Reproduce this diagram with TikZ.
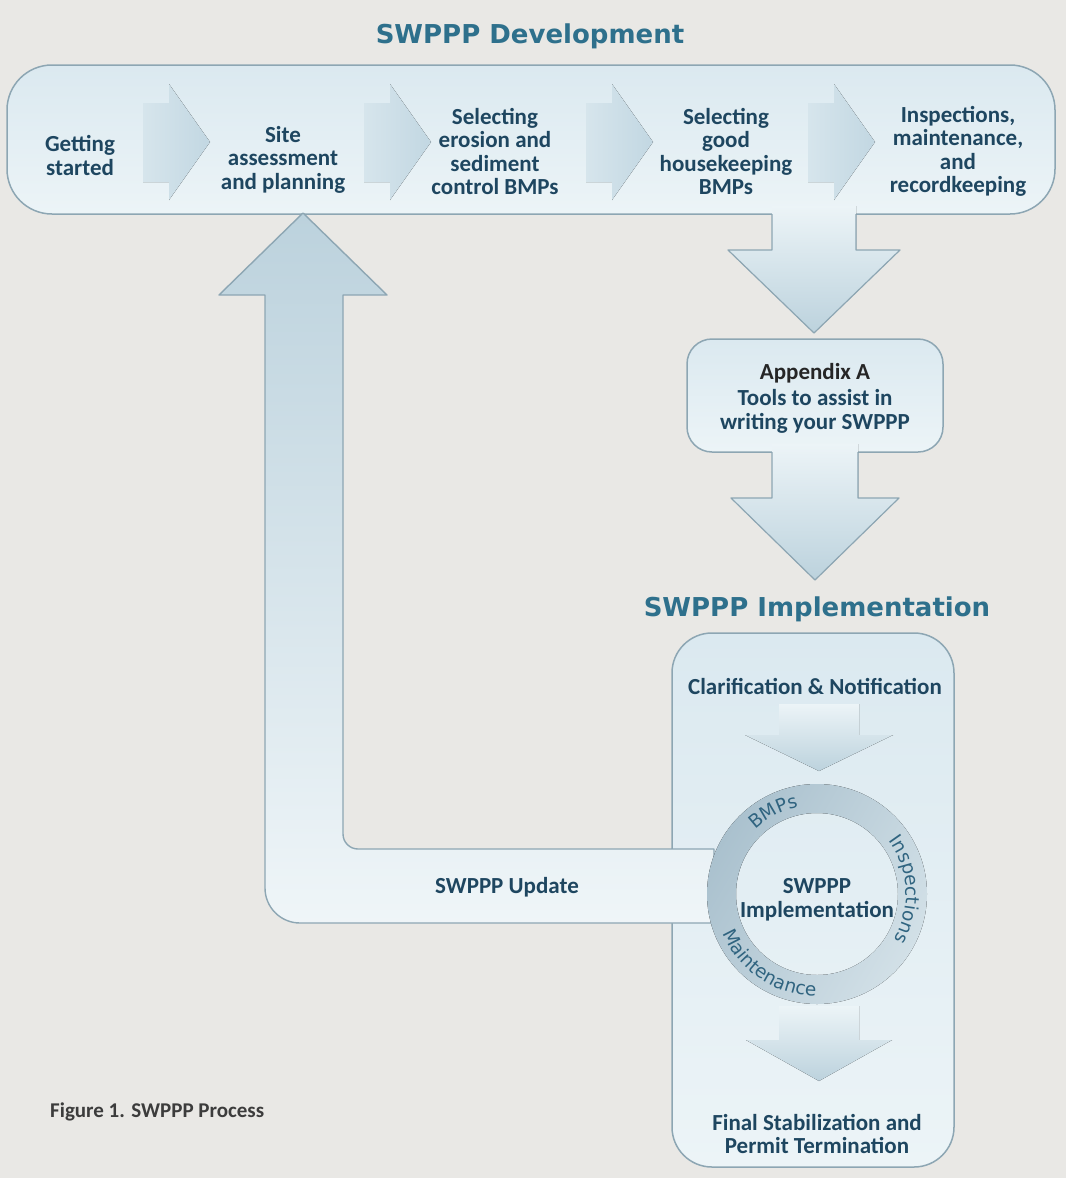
\documentclass[tikz,border=0pt]{standalone}
\usepackage{fontspec}
\setmainfont{Carlito}
\newfontfamily\headfont{DejaVu Sans}
\newfontfamily\ringfont{DejaVu Sans}
\usetikzlibrary{decorations.text}

\definecolor{bgc}{RGB}{233,232,229}
\definecolor{boxtop}{RGB}{219,233,240}
\definecolor{boxbot}{RGB}{236,244,247}
\definecolor{edge}{RGB}{141,166,179}
\definecolor{labelc}{RGB}{30,70,96}
\definecolor{headc}{RGB}{46,112,140}
\definecolor{arrlight}{RGB}{232,241,245}
\definecolor{arrdark}{RGB}{188,210,221}
\definecolor{rowlight}{RGB}{214,229,236}
\definecolor{rowdark}{RGB}{194,215,226}
\definecolor{ringdark}{RGB}{170,193,206}
\definecolor{ringlight}{RGB}{210,224,231}
\definecolor{ringtext}{RGB}{48,100,128}
\definecolor{captc}{RGB}{60,60,60}

% fat chevron arrow inside the development panel, #1 = left x
\newcommand\rowarrow[1]{%
  \fill[left color=rowlight, right color=rowdark]
    (#1,103) -- (#1+26,103) -- (#1+26,84) -- (#1+67,142) -- (#1+26,200)
    -- (#1+26,182) -- (#1,182) -- cycle;}

\begin{document}
\begin{tikzpicture}[x=1pt,y=-1pt,
  panel/.style={draw=edge, line width=1.5pt, top color=boxtop, bottom color=boxbot},
  lbl/.style={text=labelc, font=\bfseries\fontsize{23}{23.5}\selectfont, align=center, inner sep=0pt},
  heading/.style={text=headc, font=\headfont\bfseries\fontsize{26}{30}\selectfont, inner sep=0pt},
  bigarrow/.style={top color=boxbot, bottom color=arrdark},
  arrowedge/.style={draw=edge, line width=1.2pt, line join=round},
  innerarrow/.style={top color=boxbot, bottom color=arrdark},
  ringtxt/.style={decorate, decoration={text along path, text align=center,
      text color=ringtext, text={|\ringfont\fontsize{18.5}{20}\selectfont|#1}}}
]
\useasboundingbox (0,0) rectangle (1066,1178);
\fill[bgc] (0,0) rectangle (1066,1178);

% ---------- SWPPP development panel ----------
\node[heading] (devtitle) at (530,36) {SWPPP Development};
\path[panel, rounded corners=45pt] (7,65) rectangle (1055,214);
\coordinate (devbox) at (531,139);

\rowarrow{143}
\rowarrow{364}
\rowarrow{586}
\rowarrow{808}

\node[lbl] (s1) at (80,155.5) {Getting\\started};
\node[lbl] (s2) at (283,159.5) {Site\\assessment\\and planning};
\node[lbl] (s3) at (495,151.5) {Selecting\\erosion and\\sediment\\control BMPs};
\node[lbl] (s4) at (726,151.5) {Selecting\\good\\housekeeping\\BMPs};
\node[lbl] (s5) at (958,151.5) {Inspections,\\maintenance,\\and\\recordkeeping};

% ---------- Appendix A ----------
\path[panel, rounded corners=25pt] (687,339) rectangle (943,452);
\node[lbl, text=black!85] (appA) at (815,373) {Appendix A};
\node[lbl] (appB) at (815,411.5) {Tools to assist in\\writing your SWPPP};

% ---------- SWPPP implementation panel ----------
\path[panel, rounded corners=40pt] (672,633) rectangle (954,1167);
\node[heading] (impltitle) at (817,609) {SWPPP Implementation};

% arrow from the development panel down to Appendix A
\coordinate (d1) at (814,333);
\fill[bigarrow] (772,206) -- (856,206) -- (856,250) -- (900,250) -- (d1)
  -- (728,250) -- (772,250) -- cycle;
\draw[arrowedge] (772,214) -- (772,250) -- (728,250) -- (d1) -- (900,250)
  -- (856,250) -- (856,214);

% arrow from Appendix A down to the implementation heading
\coordinate (d2) at (815,580);
\fill[bigarrow] (772,444) -- (858,444) -- (858,498) -- (899,498) -- (d2)
  -- (731,498) -- (772,498) -- cycle;
\draw[arrowedge] (772,452) -- (772,498) -- (731,498) -- (d2) -- (899,498)
  -- (858,498) -- (858,452);

% arrows inside the implementation panel
\node[lbl] (clar) at (815,686) {Clarification \& Notification};
\fill[innerarrow] (779,704) -- (859,704) -- (859,735) -- (893,735) -- (819,771)
  -- (745,735) -- (779,735) -- cycle;
\fill[innerarrow] (779,1006) -- (859,1006) -- (859,1040) -- (892,1040) -- (819,1081)
  -- (746,1040) -- (779,1040) -- cycle;
\node[lbl] (final) at (817,1134) {Final Stabilization and\\Permit Termination};

% ---------- SWPPP update loop back to site assessment ----------
\coordinate (uptip) at (303,213);
\path[draw=edge, line width=1.4pt, line join=round,
      top color=arrdark, bottom color=arrlight!70!white]
  (uptip) -- (387,295) -- (343,295) -- (343,834)
  arc[start angle=180, end angle=90, radius=15] -- (714,849) -- (714,923)
  -- (300,923) arc[start angle=90, end angle=180, radius=35]
  -- (265,295) -- (219,295) -- cycle;
\node[lbl] (update) at (507,887) {SWPPP Update};

% ---------- implementation cycle ring ----------
\begin{scope}[shift={(817,894)}, y=1pt]
  \fill[even odd rule, left color=ringdark, right color=ringlight, shading angle=60]
    (0,0) circle[radius=110] (0,0) circle[radius=81];
  \path[ringtxt=BMPs] (152:89) arc[start angle=152, end angle=84, radius=89];
  \path[ringtxt=Inspections] (50:89) arc[start angle=50, end angle=-44, radius=89];
  \path[ringtxt=Maintenance] (190:102) arc[start angle=190, end angle=282, radius=102];
\end{scope}
\node[lbl] (ring) at (817,900) {SWPPP\\Implementation};

% ---------- caption ----------
\node[anchor=west, inner sep=0pt, text=captc, font=\bfseries\fontsize{21}{24}\selectfont]
  (caption) at (50,1112) {Figure 1. SWPPP Process};
\end{tikzpicture}
\end{document}
